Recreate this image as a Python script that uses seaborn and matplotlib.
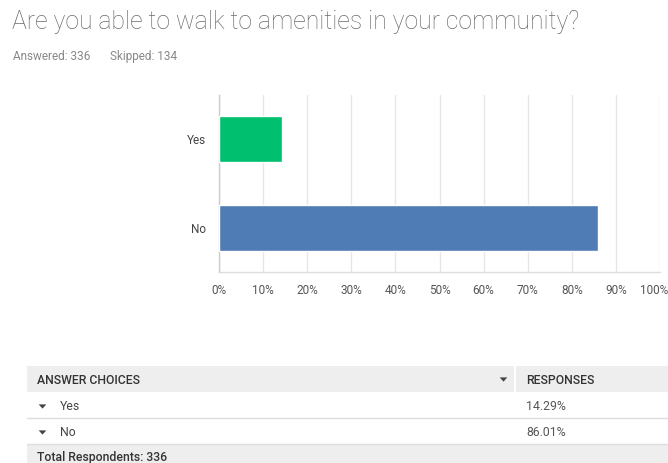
import matplotlib
matplotlib.use("Agg")
import matplotlib.pyplot as plt
import matplotlib.transforms as mtransforms
import seaborn as sns
import pandas as pd
from matplotlib.patches import Rectangle

# Survey question and results
question = "Are you able to walk to amenities in your community?"
answered = 336
skipped = 134
categories = ["Yes", "No"]
percents = [14.29, 86.01]
bar_colors = ["#00bf6f", "#507cb6"]
x_ticks = [0, 10, 20, 30, 40, 50, 60, 70, 80, 90, 100]
x_tick_labels = [f"{t}%" for t in x_ticks]
total_respondents = 336

sns.set_theme(style="white")
plt.rcParams["font.family"] = ["Roboto", "DejaVu Sans"]

W, H = 668, 463
fig = plt.figure(figsize=(W / 100, H / 100), dpi=100)
fig.patch.set_facecolor("white")

# Background layer in pixel coordinates for headings and the table
bg = fig.add_axes([0, 0, 1, 1])
bg.set_xlim(0, W)
bg.set_ylim(H, 0)
bg.axis("off")

bg.text(12, 28.5, question, fontsize=17.8, color="#6b6b6b", fontweight="light",
        va="baseline", ha="left")
bg.text(13, 60, f"Answered: {answered}", fontsize=8.5, color="#888888",
        va="baseline", ha="left")
bg.text(110, 60, f"Skipped: {skipped}", fontsize=8.5, color="#888888",
        va="baseline", ha="left")

# Bar chart
left, right, top, bottom = 219, 660, 95, 272
ax = fig.add_axes([left / W, 1 - bottom / H, (right - left) / W, (bottom - top) / H])
df = pd.DataFrame({"answer": categories, "pct": percents})
sns.barplot(data=df, x="pct", y="answer", hue="answer", palette=bar_colors,
            legend=False, width=0.517, saturation=1, ax=ax, zorder=3)
ax.set_xlim(0, 100)
ax.set_ylim(1.494, -0.494)
ax.set_xticks(x_ticks)
ax.set_xticklabels(x_tick_labels)
ax.set_xlabel("")
ax.set_ylabel("")
ax.grid(axis="x", color="#e6e6e6", linewidth=1, zorder=0)
ax.grid(axis="y", visible=False)
for s in ["top", "right"]:
    ax.spines[s].set_visible(False)
ax.spines["left"].set_color("#cccccc")
ax.spines["bottom"].set_color("#dddddd")
ax.spines["left"].set_linewidth(1)
ax.spines["bottom"].set_linewidth(1)
ax.tick_params(axis="x", length=0, pad=9, labelsize=8.5, labelcolor="#555555")
ax.tick_params(axis="y", length=0, pad=9.5, labelsize=8.5, labelcolor="#444444")
ax.set_facecolor("none")
# keep the last tick label inside the figure
last = ax.get_xticklabels()[-1]
last.set_transform(last.get_transform() +
                   mtransforms.ScaledTranslation(-6 / 100, 0, fig.dpi_scale_trans))

# Answer table
tx0, tx1, split = 27, 668, 515
bg.add_patch(Rectangle((tx0, 366), tx1 - tx0, 26, color="#eeeeee", lw=0))
bg.plot([split, split], [366, 392], color="white", lw=1.5)
bg.add_patch(Rectangle((tx0, 444), tx1 - tx0, 19, color="#eeeeee", lw=0))
bg.plot([tx0, tx1], [418, 418], color="#dddddd", lw=1)
bg.plot([tx0, tx1], [444, 444], color="#dddddd", lw=1)

# flat downward caret used in the table
caret = [(-1, 0.55), (1, 0.55), (0, -0.55), (-1, 0.55)]

fs = 8.8
bg.text(37, 380, "ANSWER CHOICES", fontsize=fs, color="#333333",
        fontweight="medium", va="center", ha="left")
bg.text(526, 380, "RESPONSES", fontsize=fs, color="#333333",
        fontweight="medium", va="center", ha="left")
bg.plot([503], [379], marker=caret, markersize=5.5, color="#444444", mew=0)

row_y = [406, 432]
for cat, pct, y in zip(categories, percents, row_y):
    bg.plot([42], [y], marker=caret, markersize=5.5, color="#444444", mew=0)
    bg.text(60, y, cat, fontsize=fs, color="#444444", va="center", ha="left")
    bg.text(526, y, f"{pct:.2f}%", fontsize=fs, color="#555555",
            va="center", ha="left")

bg.text(37, 457, f"Total Respondents: {total_respondents}", fontsize=fs,
        color="#333333", fontweight="medium", va="center", ha="left")

fig.savefig("out.png", dpi=100)
